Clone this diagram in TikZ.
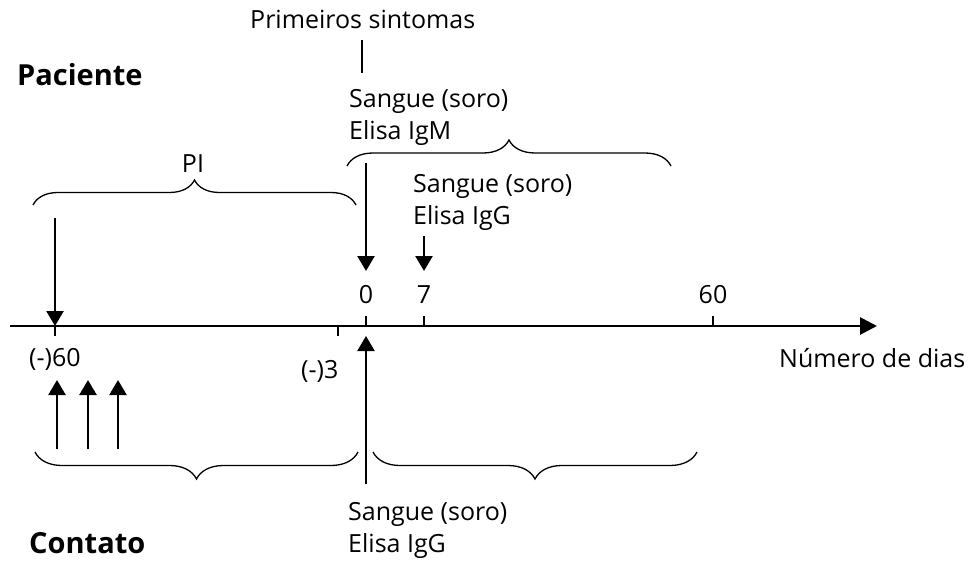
\documentclass[tikz,border=0pt]{standalone}
\usepackage{fontspec}
\setmainfont{Open Sans}
\usetikzlibrary{arrows.meta,decorations.pathreplacing}
\begin{document}
\begin{tikzpicture}[x=1pt,y=-1pt,
  lbl/.style={font=\fontsize{25}{30}\selectfont, inner sep=0pt, anchor=base west},
  lblc/.style={font=\fontsize{25}{30}\selectfont, inner sep=0pt, anchor=base},
  ttl/.style={font=\fontsize{29}{34}\selectfont\bfseries, inner sep=0pt, anchor=base west},
  arr/.style={line width=2.4pt, -{Triangle[width=17pt,length=15pt]}},
  axis/.style={line width=2.8pt, -{Triangle[width=17pt,length=17pt]}},
  tick/.style={line width=1.3pt},
  brc/.style={line width=1.3pt, decorate, decoration={brace, amplitude=#1}},
]
\useasboundingbox (0,0) rectangle (970,562);

% titles
\node[ttl] (pac) at (17,85) {Paciente};
\node[ttl] (con) at (29,553) {Contato};
\node[lbl] (ps) at (250,28) {Primeiros sintomas};
\coordinate (psA) at (362,40);
\coordinate (psB) at (362,73);
\draw[line width=1.3pt] (psA) -- (psB);

% top labels
\node[lbl] (s1) at (349,107) {Sangue (soro)};
\node[lbl] (e1) at (349,139) {Elisa IgM};
\node[lbl] (s2) at (413,192) {Sangue (soro)};
\node[lbl] (e2) at (413,224) {Elisa IgG};
\node[lbl] (s3) at (348,520) {Sangue (soro)};
\node[lbl] (e3) at (348,552) {Elisa IgG};
\node[lblc] (pi) at (193,172) {PI};

% axis
\coordinate (ax0) at (10,326);
\coordinate (ax1) at (877,326);
\draw[axis] (ax0) -- (ax1);
\coordinate (tm60) at (55,326);
\coordinate (tm3) at (338,326);
\coordinate (t0) at (366,326);
\coordinate (t7) at (424,326);
\coordinate (t60) at (713,326);
\draw[tick] (tm60) -- ++(0,10);
\draw[tick] (tm3) -- ++(0,10);
\draw[tick] (t0) -- ++(0,-10);
\draw[tick] (t7) -- ++(0,-10);
\draw[tick] (t60) -- ++(0,-10);

% axis labels
\node[lblc] (l0) at (366,303) {0};
\node[lblc] (l7) at (424,303) {7};
\node[lblc] (l60) at (713,303) {60};
\node[lbl] (lm60) at (29,366) {(-)60};
\node[lbl] (lm3) at (301,378) {(-)3};
\node[lbl] (nd) at (779,367) {Número de dias};

% arrows down
\coordinate (a1s) at (55,218);
\draw[arr] (a1s) -- (tm60);
\coordinate (a2s) at (366,163);
\coordinate (a2e) at (366,271);
\draw[arr] (a2s) -- (a2e);
\coordinate (a3s) at (424,236);
\coordinate (a3e) at (424,271);
\draw[arr] (a3s) -- (a3e);

% arrows up
\coordinate (u0s) at (366,484);
\coordinate (u0e) at (366,336);
\draw[arr] (u0s) -- (u0e);
\coordinate (u1s) at (57,449);
\coordinate (u1e) at (57,380);
\draw[arr] (u1s) -- (u1e);
\coordinate (u2s) at (88,449);
\coordinate (u2e) at (88,380);
\draw[arr] (u2s) -- (u2e);
\coordinate (u3s) at (118,449);
\coordinate (u3e) at (118,380);
\draw[arr] (u3s) -- (u3e);

% braces
\coordinate (b1a) at (33,205);
\coordinate (b1b) at (356,205);
\draw[brc=25pt] (b1a) -- (b1b);
\coordinate (b2a) at (347,166);
\coordinate (b2b) at (671,166);
\draw[brc=26pt] (b2a) -- (b2b);
\coordinate (b3a) at (35,452);
\coordinate (b3b) at (358,452);
\draw[brc=27pt] (b3b) -- (b3a);
\coordinate (b4a) at (373,452);
\coordinate (b4b) at (697,452);
\draw[brc=27pt] (b4b) -- (b4a);
\end{tikzpicture}
\end{document}
